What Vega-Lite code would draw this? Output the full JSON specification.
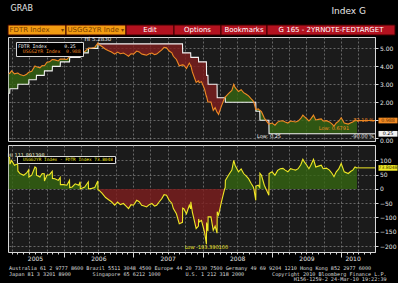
{
"$schema": "https://vega.github.io/schema/vega-lite/v6.json",
"background": "#000000",
"padding": {"left": 6, "top": 4, "right": 0, "bottom": 0},
"spacing": 0,
"resolve": {"scale": {"color": "independent", "fill": "independent"}, "legend": {"color": "independent", "fill": "independent"}},
"title": {"text": "Index G", "anchor": "end", "fontSize": 9, "fontWeight": "normal", "color": "#e8e8e8", "dx": -32, "dy": 11, "offset": 0},
"datasets": {
"d": [
{"date":"2005-03-16","fdtr":2.50,"usgg":3.6189,"spread":111.89,"sign":"pos","seg":1},
{"date":"2005-03-21","fdtr":2.50,"usgg":3.60,"spread":110,"sign":"pos","seg":1},
{"date":"2005-03-22","fdtr":2.75,"usgg":3.62,"spread":87,"sign":"pos","seg":1},
{"date":"2005-03-31","fdtr":2.75,"usgg":3.75,"spread":100,"sign":"pos","seg":1},
{"date":"2005-04-15","fdtr":2.75,"usgg":3.58,"spread":83,"sign":"pos","seg":1},
{"date":"2005-05-02","fdtr":2.75,"usgg":3.63,"spread":88,"sign":"pos","seg":1},
{"date":"2005-05-03","fdtr":3.00,"usgg":3.63,"spread":63,"sign":"pos","seg":1},
{"date":"2005-05-14","fdtr":3.00,"usgg":3.54,"spread":54,"sign":"pos","seg":1},
{"date":"2005-06-03","fdtr":3.00,"usgg":3.48,"spread":48,"sign":"pos","seg":1},
{"date":"2005-06-18","fdtr":3.00,"usgg":3.56,"spread":56,"sign":"pos","seg":1},
{"date":"2005-06-29","fdtr":3.00,"usgg":3.67,"spread":67,"sign":"pos","seg":1},
{"date":"2005-06-30","fdtr":3.25,"usgg":3.67,"spread":42,"sign":"pos","seg":1},
{"date":"2005-07-15","fdtr":3.25,"usgg":3.73,"spread":48,"sign":"pos","seg":1},
{"date":"2005-08-01","fdtr":3.25,"usgg":4.02,"spread":77,"sign":"pos","seg":1},
{"date":"2005-08-08","fdtr":3.25,"usgg":3.98,"spread":73,"sign":"pos","seg":1},
{"date":"2005-08-09","fdtr":3.50,"usgg":3.98,"spread":48,"sign":"pos","seg":1},
{"date":"2005-08-27","fdtr":3.50,"usgg":3.92,"spread":42,"sign":"pos","seg":1},
{"date":"2005-09-08","fdtr":3.50,"usgg":4.04,"spread":54,"sign":"pos","seg":1},
{"date":"2005-09-19","fdtr":3.50,"usgg":4.03,"spread":53,"sign":"pos","seg":1},
{"date":"2005-09-20","fdtr":3.75,"usgg":4.03,"spread":28,"sign":"pos","seg":1},
{"date":"2005-10-03","fdtr":3.75,"usgg":4.23,"spread":48,"sign":"pos","seg":1},
{"date":"2005-10-17","fdtr":3.75,"usgg":4.25,"spread":50,"sign":"pos","seg":1},
{"date":"2005-10-31","fdtr":3.75,"usgg":4.37,"spread":62,"sign":"pos","seg":1},
{"date":"2005-11-01","fdtr":4.00,"usgg":4.37,"spread":37,"sign":"pos","seg":1},
{"date":"2005-11-14","fdtr":4.00,"usgg":4.36,"spread":36,"sign":"pos","seg":1},
{"date":"2005-12-02","fdtr":4.00,"usgg":4.30,"spread":30,"sign":"pos","seg":1},
{"date":"2005-12-12","fdtr":4.00,"usgg":4.40,"spread":40,"sign":"pos","seg":1},
{"date":"2005-12-13","fdtr":4.25,"usgg":4.40,"spread":15,"sign":"pos","seg":1},
{"date":"2005-12-30","fdtr":4.25,"usgg":4.40,"spread":15,"sign":"pos","seg":1},
{"date":"2006-01-16","fdtr":4.25,"usgg":4.38,"spread":13,"sign":"pos","seg":1},
{"date":"2006-01-30","fdtr":4.25,"usgg":4.55,"spread":30,"sign":"pos","seg":1},
{"date":"2006-01-31","fdtr":4.50,"usgg":4.55,"spread":5,"sign":"pos","seg":1},
{"date":"2006-02-13","fdtr":4.50,"usgg":4.57,"spread":7,"sign":"pos","seg":1},
{"date":"2006-03-01","fdtr":4.50,"usgg":4.68,"spread":18,"sign":"pos","seg":1},
{"date":"2006-03-20","fdtr":4.50,"usgg":4.63,"spread":13,"sign":"pos","seg":1},
{"date":"2006-03-27","fdtr":4.50,"usgg":4.75,"spread":25,"sign":"pos","seg":1},
{"date":"2006-03-28","fdtr":4.75,"usgg":4.75,"spread":0,"sign":"pos","seg":1},
{"date":"2006-04-20","fdtr":4.75,"usgg":4.82,"spread":7,"sign":"pos","seg":1},
{"date":"2006-05-09","fdtr":4.75,"usgg":5.00,"spread":25,"sign":"pos","seg":1},
{"date":"2006-05-10","fdtr":5.00,"usgg":5.00,"spread":0,"sign":"pos","seg":1},
{"date":"2006-05-27","fdtr":5.00,"usgg":5.02,"spread":2,"sign":"pos","seg":1},
{"date":"2006-06-12","fdtr":5.00,"usgg":5.05,"spread":5,"sign":"pos","seg":1},
{"date":"2006-06-28","fdtr":5.00,"usgg":5.283,"spread":28.3,"sign":"pos","seg":1},
{"date":"2006-06-29","fdtr":5.25,"usgg":5.22,"spread":-3,"sign":"neg","seg":2},
{"date":"2006-07-05","fdtr":5.25,"usgg":5.20,"spread":-5,"sign":"neg","seg":2},
{"date":"2006-07-20","fdtr":5.25,"usgg":5.10,"spread":-15,"sign":"neg","seg":2},
{"date":"2006-08-08","fdtr":5.25,"usgg":4.95,"spread":-30,"sign":"neg","seg":2},
{"date":"2006-08-24","fdtr":5.25,"usgg":4.87,"spread":-38,"sign":"neg","seg":2},
{"date":"2006-09-08","fdtr":5.25,"usgg":4.80,"spread":-45,"sign":"neg","seg":2},
{"date":"2006-09-25","fdtr":5.25,"usgg":4.68,"spread":-57,"sign":"neg","seg":2},
{"date":"2006-10-10","fdtr":5.25,"usgg":4.79,"spread":-46,"sign":"neg","seg":2},
{"date":"2006-10-25","fdtr":5.25,"usgg":4.70,"spread":-55,"sign":"neg","seg":2},
{"date":"2006-11-10","fdtr":5.25,"usgg":4.74,"spread":-51,"sign":"neg","seg":2},
{"date":"2006-11-24","fdtr":5.25,"usgg":4.65,"spread":-60,"sign":"neg","seg":2},
{"date":"2006-12-07","fdtr":5.25,"usgg":4.56,"spread":-69,"sign":"neg","seg":2},
{"date":"2006-12-20","fdtr":5.25,"usgg":4.70,"spread":-55,"sign":"neg","seg":2},
{"date":"2007-01-02","fdtr":5.25,"usgg":4.68,"spread":-57,"sign":"neg","seg":2},
{"date":"2007-01-19","fdtr":5.25,"usgg":4.85,"spread":-40,"sign":"neg","seg":2},
{"date":"2007-02-01","fdtr":5.25,"usgg":4.80,"spread":-45,"sign":"neg","seg":2},
{"date":"2007-02-14","fdtr":5.25,"usgg":4.68,"spread":-57,"sign":"neg","seg":2},
{"date":"2007-02-27","fdtr":5.25,"usgg":4.65,"spread":-60,"sign":"neg","seg":2},
{"date":"2007-03-12","fdtr":5.25,"usgg":4.62,"spread":-63,"sign":"neg","seg":2},
{"date":"2007-03-26","fdtr":5.25,"usgg":4.70,"spread":-55,"sign":"neg","seg":2},
{"date":"2007-04-09","fdtr":5.25,"usgg":4.74,"spread":-51,"sign":"neg","seg":2},
{"date":"2007-04-23","fdtr":5.25,"usgg":4.65,"spread":-60,"sign":"neg","seg":2},
{"date":"2007-05-04","fdtr":5.25,"usgg":4.68,"spread":-57,"sign":"neg","seg":2},
{"date":"2007-05-18","fdtr":5.25,"usgg":4.80,"spread":-45,"sign":"neg","seg":2},
{"date":"2007-05-31","fdtr":5.25,"usgg":4.91,"spread":-34,"sign":"neg","seg":2},
{"date":"2007-06-12","fdtr":5.25,"usgg":5.05,"spread":-20,"sign":"neg","seg":2},
{"date":"2007-06-25","fdtr":5.25,"usgg":5.03,"spread":-22,"sign":"neg","seg":2},
{"date":"2007-07-09","fdtr":5.25,"usgg":4.85,"spread":-40,"sign":"neg","seg":2},
{"date":"2007-07-23","fdtr":5.25,"usgg":4.75,"spread":-50,"sign":"neg","seg":2},
{"date":"2007-07-31","fdtr":5.25,"usgg":4.56,"spread":-69,"sign":"neg","seg":2},
{"date":"2007-08-16","fdtr":5.25,"usgg":4.38,"spread":-87,"sign":"neg","seg":2},
{"date":"2007-08-31","fdtr":5.25,"usgg":4.03,"spread":-122,"sign":"neg","seg":2},
{"date":"2007-09-17","fdtr":5.25,"usgg":4.08,"spread":-117,"sign":"neg","seg":2},
{"date":"2007-09-18","fdtr":4.75,"usgg":4.08,"spread":-67,"sign":"neg","seg":2},
{"date":"2007-09-24","fdtr":4.75,"usgg":4.06,"spread":-69,"sign":"neg","seg":2},
{"date":"2007-10-08","fdtr":4.75,"usgg":3.88,"spread":-87,"sign":"neg","seg":2},
{"date":"2007-10-23","fdtr":4.75,"usgg":4.18,"spread":-57,"sign":"neg","seg":2},
{"date":"2007-10-30","fdtr":4.75,"usgg":4.05,"spread":-70,"sign":"neg","seg":2},
{"date":"2007-10-31","fdtr":4.50,"usgg":4.05,"spread":-45,"sign":"neg","seg":2},
{"date":"2007-11-08","fdtr":4.50,"usgg":3.69,"spread":-81,"sign":"neg","seg":2},
{"date":"2007-11-28","fdtr":4.50,"usgg":3.11,"spread":-139,"sign":"neg","seg":2},
{"date":"2007-12-10","fdtr":4.50,"usgg":3.20,"spread":-130,"sign":"neg","seg":2},
{"date":"2007-12-11","fdtr":4.25,"usgg":3.20,"spread":-105,"sign":"neg","seg":2},
{"date":"2007-12-14","fdtr":4.25,"usgg":3.09,"spread":-116,"sign":"neg","seg":2},
{"date":"2007-12-26","fdtr":4.25,"usgg":3.15,"spread":-110,"sign":"neg","seg":2},
{"date":"2008-01-11","fdtr":4.25,"usgg":2.74,"spread":-151,"sign":"neg","seg":2},
{"date":"2008-01-21","fdtr":4.25,"usgg":2.3161,"spread":-193.39,"sign":"neg","seg":2},
{"date":"2008-01-22","fdtr":3.50,"usgg":2.32,"spread":-118,"sign":"neg","seg":2},
{"date":"2008-01-28","fdtr":3.50,"usgg":2.05,"spread":-145,"sign":"neg","seg":2},
{"date":"2008-01-29","fdtr":3.50,"usgg":2.02,"spread":-148,"sign":"neg","seg":2},
{"date":"2008-01-30","fdtr":3.00,"usgg":2.02,"spread":-98,"sign":"neg","seg":2},
{"date":"2008-02-14","fdtr":3.00,"usgg":2.02,"spread":-98,"sign":"neg","seg":2},
{"date":"2008-02-26","fdtr":3.00,"usgg":1.55,"spread":-145,"sign":"neg","seg":2},
{"date":"2008-03-07","fdtr":3.00,"usgg":1.70,"spread":-130,"sign":"neg","seg":2},
{"date":"2008-03-17","fdtr":3.00,"usgg":1.45,"spread":-155,"sign":"neg","seg":2},
{"date":"2008-03-18","fdtr":2.25,"usgg":1.45,"spread":-80,"sign":"neg","seg":2},
{"date":"2008-03-25","fdtr":2.25,"usgg":1.33,"spread":-92,"sign":"neg","seg":2},
{"date":"2008-04-09","fdtr":2.25,"usgg":1.79,"spread":-46,"sign":"neg","seg":2},
{"date":"2008-04-26","fdtr":2.25,"usgg":2.25,"spread":0,"sign":"neg","seg":2},
{"date":"2008-04-26","fdtr":2.25,"usgg":2.25,"spread":0,"sign":"pos","seg":3},
{"date":"2008-04-29","fdtr":2.25,"usgg":2.30,"spread":5,"sign":"pos","seg":3},
{"date":"2008-04-30","fdtr":2.00,"usgg":2.30,"spread":30,"sign":"pos","seg":3},
{"date":"2008-05-16","fdtr":2.00,"usgg":2.48,"spread":48,"sign":"pos","seg":3},
{"date":"2008-06-03","fdtr":2.00,"usgg":2.66,"spread":66,"sign":"pos","seg":3},
{"date":"2008-06-13","fdtr":2.00,"usgg":3.00,"spread":100,"sign":"pos","seg":3},
{"date":"2008-06-20","fdtr":2.00,"usgg":2.83,"spread":83,"sign":"pos","seg":3},
{"date":"2008-07-08","fdtr":2.00,"usgg":2.60,"spread":60,"sign":"pos","seg":3},
{"date":"2008-07-22","fdtr":2.00,"usgg":2.70,"spread":70,"sign":"pos","seg":3},
{"date":"2008-08-04","fdtr":2.00,"usgg":2.54,"spread":54,"sign":"pos","seg":3},
{"date":"2008-08-18","fdtr":2.00,"usgg":2.45,"spread":45,"sign":"pos","seg":3},
{"date":"2008-08-30","fdtr":2.00,"usgg":2.36,"spread":36,"sign":"pos","seg":3},
{"date":"2008-09-12","fdtr":2.00,"usgg":2.20,"spread":20,"sign":"pos","seg":3},
{"date":"2008-09-24","fdtr":2.00,"usgg":2.07,"spread":7,"sign":"pos","seg":3},
{"date":"2008-09-27","fdtr":2.00,"usgg":2.00,"spread":0,"sign":"pos","seg":3},
{"date":"2008-09-27","fdtr":2.00,"usgg":2.00,"spread":0,"sign":"neg","seg":4},
{"date":"2008-10-07","fdtr":2.00,"usgg":1.60,"spread":-40,"sign":"neg","seg":4},
{"date":"2008-10-08","fdtr":1.50,"usgg":1.60,"spread":10,"sign":"pos","seg":5},
{"date":"2008-10-20","fdtr":1.50,"usgg":1.63,"spread":13,"sign":"pos","seg":5},
{"date":"2008-10-28","fdtr":1.50,"usgg":1.55,"spread":5,"sign":"pos","seg":5},
{"date":"2008-10-29","fdtr":1.00,"usgg":1.55,"spread":55,"sign":"pos","seg":5},
{"date":"2008-11-06","fdtr":1.00,"usgg":1.48,"spread":48,"sign":"pos","seg":5},
{"date":"2008-11-21","fdtr":1.00,"usgg":1.13,"spread":13,"sign":"pos","seg":5},
{"date":"2008-11-30","fdtr":1.00,"usgg":1.00,"spread":0,"sign":"pos","seg":5},
{"date":"2008-11-30","fdtr":1.00,"usgg":1.00,"spread":0,"sign":"neg","seg":6},
{"date":"2008-12-15","fdtr":1.00,"usgg":0.78,"spread":-22,"sign":"neg","seg":6},
{"date":"2008-12-16","fdtr":0.25,"usgg":0.79,"spread":54,"sign":"pos","seg":7},
{"date":"2009-01-01","fdtr":0.25,"usgg":0.85,"spread":60,"sign":"pos","seg":7},
{"date":"2009-01-16","fdtr":0.25,"usgg":0.73,"spread":48,"sign":"pos","seg":7},
{"date":"2009-01-30","fdtr":0.25,"usgg":0.90,"spread":65,"sign":"pos","seg":7},
{"date":"2009-02-13","fdtr":0.25,"usgg":0.96,"spread":71,"sign":"pos","seg":7},
{"date":"2009-02-27","fdtr":0.25,"usgg":0.97,"spread":72,"sign":"pos","seg":7},
{"date":"2009-03-11","fdtr":0.25,"usgg":0.91,"spread":66,"sign":"pos","seg":7},
{"date":"2009-03-25","fdtr":0.25,"usgg":0.85,"spread":60,"sign":"pos","seg":7},
{"date":"2009-04-08","fdtr":0.25,"usgg":0.96,"spread":71,"sign":"pos","seg":7},
{"date":"2009-04-22","fdtr":0.25,"usgg":0.93,"spread":68,"sign":"pos","seg":7},
{"date":"2009-05-05","fdtr":0.25,"usgg":0.91,"spread":66,"sign":"pos","seg":7},
{"date":"2009-05-18","fdtr":0.25,"usgg":0.96,"spread":71,"sign":"pos","seg":7},
{"date":"2009-06-01","fdtr":0.25,"usgg":1.10,"spread":85,"sign":"pos","seg":7},
{"date":"2009-06-12","fdtr":0.25,"usgg":1.29,"spread":104,"sign":"pos","seg":7},
{"date":"2009-06-20","fdtr":0.25,"usgg":1.20,"spread":95,"sign":"pos","seg":7},
{"date":"2009-07-01","fdtr":0.25,"usgg":1.10,"spread":85,"sign":"pos","seg":7},
{"date":"2009-07-14","fdtr":0.25,"usgg":0.96,"spread":71,"sign":"pos","seg":7},
{"date":"2009-07-24","fdtr":0.25,"usgg":1.08,"spread":83,"sign":"pos","seg":7},
{"date":"2009-08-07","fdtr":0.25,"usgg":1.29,"spread":104,"sign":"pos","seg":7},
{"date":"2009-08-19","fdtr":0.25,"usgg":1.02,"spread":77,"sign":"pos","seg":7},
{"date":"2009-09-02","fdtr":0.25,"usgg":1.05,"spread":80,"sign":"pos","seg":7},
{"date":"2009-09-17","fdtr":0.25,"usgg":1.08,"spread":83,"sign":"pos","seg":7},
{"date":"2009-09-27","fdtr":0.25,"usgg":0.96,"spread":71,"sign":"pos","seg":7},
{"date":"2009-10-14","fdtr":0.25,"usgg":0.98,"spread":73,"sign":"pos","seg":7},
{"date":"2009-10-30","fdtr":0.25,"usgg":0.91,"spread":66,"sign":"pos","seg":7},
{"date":"2009-11-12","fdtr":0.25,"usgg":0.80,"spread":55,"sign":"pos","seg":7},
{"date":"2009-11-23","fdtr":0.25,"usgg":0.6791,"spread":42.91,"sign":"pos","seg":7},
{"date":"2009-12-05","fdtr":0.25,"usgg":0.85,"spread":60,"sign":"pos","seg":7},
{"date":"2009-12-18","fdtr":0.25,"usgg":0.95,"spread":70,"sign":"pos","seg":7},
{"date":"2009-12-31","fdtr":0.25,"usgg":1.14,"spread":89,"sign":"pos","seg":7},
{"date":"2010-01-16","fdtr":0.25,"usgg":0.85,"spread":60,"sign":"pos","seg":7},
{"date":"2010-02-06","fdtr":0.25,"usgg":0.79,"spread":54,"sign":"pos","seg":7},
{"date":"2010-02-20","fdtr":0.25,"usgg":0.87,"spread":62,"sign":"pos","seg":7},
{"date":"2010-03-02","fdtr":0.25,"usgg":0.91,"spread":66,"sign":"pos","seg":7},
{"date":"2010-03-14","fdtr":0.25,"usgg":1.02,"spread":77,"sign":"pos","seg":7},
{"date":"2010-03-24","fdtr":0.25,"usgg":0.988,"spread":73.8048,"sign":"pos","seg":7}
],
"last": [{"date":"2010-03-24","fdtr":0.25,"usgg":0.988,"spread":73.8048,"usggPct":"-72.18 %","fdtrPct":"-90.00 %"}]
},
"vconcat": [
{
"width": 387, "height": 10,
"title": {"text": "GRAB", "anchor": "start", "fontSize": 8, "offset": 12, "color": "#e6e6e6", "dx": 3, "fontWeight": "normal"},
"view": {"stroke": null, "fill": null},
"data": {"values": [
{"i":0,"label":"FDTR Index","w":58},
{"i":1,"label":"USGG2YR Inde","w":60},
{"i":2,"label":"Edit","w":48},
{"i":3,"label":"Options","w":47},
{"i":4,"label":"Bookmarks","w":46},
{"i":5,"label":"G 165 - 2YRNOTE-FEDTARGET","w":128}
]},
"transform": [{"stack": "w", "groupby": [], "sort": [{"field": "i", "order": "ascending"}], "as": ["x0", "x1"]}],
"layer": [
{"mark": {"type": "rect", "stroke": "#3a0000", "strokeWidth": 1},
 "encoding": {
  "x": {"field": "x0", "type": "quantitative", "scale": {"domain": [0, 387], "nice": false, "zero": false}, "axis": null},
  "x2": {"field": "x1"},
  "fill": {"field": "label", "type": "nominal", "legend": null, "sort": null,
   "scale": {"domain": ["FDTR Index","USGG2YR Inde","Edit","Options","Bookmarks","G 165 - 2YRNOTE-FEDTARGET"],
             "range": ["#f39c12","#f39c12","#b3121f","#b3121f","#b3121f","#b3121f"]}}
 }},
{"transform": [{"filter": "datum.i < 2"}],
 "mark": {"type": "text", "align": "left", "dx": 1.5, "fontSize": 7, "color": "#7b3f00"},
 "encoding": {"x": {"field": "x0", "type": "quantitative", "axis": null}, "text": {"field": "label"}}},
{"transform": [{"filter": "datum.i < 2"}],
 "mark": {"type": "text", "align": "right", "dx": -2, "fontSize": 6, "color": "#7b3f00", "text": "▾"},
 "encoding": {"x": {"field": "x1", "type": "quantitative", "axis": null}}},
{"transform": [{"filter": "datum.i == 2"}],
 "mark": {"type": "text", "align": "center", "dx": 24, "fontSize": 7, "color": "#ffffff"},
 "encoding": {"x": {"field": "x0", "type": "quantitative", "axis": null}, "text": {"field": "label"}}},
{"transform": [{"filter": "datum.i == 3"}],
 "mark": {"type": "text", "align": "center", "dx": 23.5, "fontSize": 7, "color": "#ffffff"},
 "encoding": {"x": {"field": "x0", "type": "quantitative", "axis": null}, "text": {"field": "label"}}},
{"transform": [{"filter": "datum.i == 4"}],
 "mark": {"type": "text", "align": "center", "dx": 23, "fontSize": 7, "color": "#ffffff"},
 "encoding": {"x": {"field": "x0", "type": "quantitative", "axis": null}, "text": {"field": "label"}}},
{"transform": [{"filter": "datum.i == 5"}],
 "mark": {"type": "text", "align": "center", "dx": 64, "fontSize": 7, "color": "#ffffff"},
 "encoding": {"x": {"field": "x0", "type": "quantitative", "axis": null}, "text": {"field": "label"}}}
]
},
{
"width": 367, "height": 104,
"data": {"name": "d"},
"layer": [
{"transform": [{"filter": "datum.sign == 'pos'"}],
 "mark": {"type": "area", "opacity": 0.8, "color": "#356512"},
 "encoding": {
  "x": {"field": "date", "type": "temporal", "title": null,
   "scale": {"domain": [{"year":2005,"month":3,"date":12},{"year":2010,"month":6,"date":27}]},
   "axis": {"orient": "bottom", "labels": false, "ticks": false, "domain": false, "grid": true,
    "tickCount": {"interval": "month", "step": 1},
    "gridOpacity": {"condition": {"test": "month(datum.value) % 3 == 0", "value": 0.85}, "value": 0}}},
  "y": {"field": "usgg", "type": "quantitative", "title": null,
   "scale": {"domain": [-0.15, 5.63], "nice": false, "zero": false},
   "axis": {"orient": "right", "values": [0,1,2,3,4,5], "tickCount": 6, "format": ".2f", "grid": true, "gridOpacity": 0.85, "tickSize": 3, "labelPadding": 1.5, "labelFontSize": 6, "labelOverlap": false,
    "labelExpr": "datum.value == 1 ? '' : datum.label",
    "labelOffset": {"condition": {"test": "datum.value == 0", "value": 2}, "value": 0}}},
  "y2": {"field": "fdtr"},
  "detail": {"field": "seg", "type": "nominal"}
 }},
{"transform": [{"filter": "datum.sign == 'neg'"}],
 "mark": {"type": "area", "opacity": 0.8, "color": "#7e1e1e"},
 "encoding": {
  "x": {"field": "date", "type": "temporal"},
  "y": {"field": "usgg", "type": "quantitative", "title": null},
  "y2": {"field": "fdtr"},
  "detail": {"field": "seg", "type": "nominal"}
 }},
{"mark": {"type": "line", "strokeWidth": 1.1, "color": "#f2f2f2"},
 "encoding": {
  "x": {"field": "date", "type": "temporal"},
  "y": {"field": "fdtr", "type": "quantitative", "title": null}
 }},
{"mark": {"type": "line", "strokeWidth": 1.1},
 "encoding": {
  "x": {"field": "date", "type": "temporal"},
  "y": {"field": "usgg", "type": "quantitative", "title": null},
  "color": {"datum": "USGG2YR Index",
   "scale": {"domain": ["USGG2YR Index"], "range": ["#f08a24"]},
   "legend": {"orient": "none", "legendX": 8, "legendY": 5,
    "title": "FDTR Index\u00a0\u00a0\u00a0\u00a0\u00a0\u00a00.25", "titleColor": "#f2f2f2", "titleFont": "DejaVu Sans Mono", "titleFontSize": 4.8, "titleFontWeight": "normal", "titlePadding": 1, "titleAnchor": "start",
    "fillColor": "#000000", "strokeColor": "#d8d8d8",
    "padding": 2, "labelFont": "DejaVu Sans Mono", "labelFontSize": 4.8, "labelColor": "#f08a24", "symbolSize": 0, "symbolOpacity": 0, "symbolStrokeWidth": 0, "labelOffset": 0,
    "labelExpr": "'USGG2YR Index\u00a0\u00a00.988'"}}
 }},
{"data": {"name": "last"}, "mark": {"type": "rule", "color": "#f08a24", "strokeWidth": 1},
 "encoding": {"x": {"field": "date", "type": "temporal"}, "x2": {"datum": {"year":2010,"month":6,"date":27}}, "y": {"field": "usgg", "type": "quantitative", "title": null}}},
{"data": {"name": "last"}, "mark": {"type": "rule", "color": "#f2f2f2", "strokeWidth": 1},
 "encoding": {"x": {"field": "date", "type": "temporal"}, "x2": {"datum": {"year":2010,"month":6,"date":27}}, "y": {"field": "fdtr", "type": "quantitative", "title": null}}},
{"data": {"name": "last"}, "mark": {"type": "point", "shape": "M-1,-0.3H1V0.3H-1Z", "size": 361, "filled": true, "fill": "#f08a24", "opacity": 1, "strokeWidth": 0, "xOffset": 13},
 "encoding": {"x": {"datum": {"year":2010,"month":6,"date":27}}, "y": {"field": "usgg", "type": "quantitative", "title": null}}},
{"data": {"name": "last"}, "mark": {"type": "text", "dx": 13, "align": "center", "fontSize": 4.8, "color": "#5a2a00"},
 "encoding": {"x": {"datum": {"year":2010,"month":6,"date":27}}, "y": {"field": "usgg", "type": "quantitative", "title": null}, "text": {"field": "usgg", "format": ".3f"}}},
{"data": {"name": "last"}, "mark": {"type": "point", "shape": "M-1,-0.3H1V0.3H-1Z", "size": 361, "filled": true, "fill": "#f2f2f2", "opacity": 1, "strokeWidth": 0, "xOffset": 13},
 "encoding": {"x": {"datum": {"year":2010,"month":6,"date":27}}, "y": {"field": "fdtr", "type": "quantitative", "title": null}}},
{"data": {"name": "last"}, "mark": {"type": "text", "dx": 13, "align": "center", "fontSize": 4.8, "color": "#000000"},
 "encoding": {"x": {"datum": {"year":2010,"month":6,"date":27}}, "y": {"field": "fdtr", "type": "quantitative", "title": null}, "text": {"field": "fdtr", "format": ".2f"}}},
{"data": {"name": "last"}, "mark": {"type": "text", "align": "right", "baseline": "bottom", "dx": -1, "dy": 2, "fontSize": 5, "color": "#f08a24"},
 "encoding": {"x": {"datum": {"year":2010,"month":6,"date":27}}, "y": {"field": "usgg", "type": "quantitative", "title": null}, "text": {"field": "usggPct"}}},
{"data": {"name": "last"}, "mark": {"type": "text", "align": "right", "baseline": "top", "dx": -1, "dy": 0.5, "fontSize": 5, "color": "#e0e0e0"},
 "encoding": {"x": {"datum": {"year":2010,"month":6,"date":27}}, "y": {"field": "fdtr", "type": "quantitative", "title": null}, "text": {"field": "fdtrPct"}}},
{"data": {"values": [{"date":"2006-06-28","value":5.283,"label":"Hi 5.2830"}]},
 "mark": {"type": "text", "align": "center", "baseline": "bottom", "dy": -1, "fontSize": 5.5, "color": "#f2f2f2"},
 "encoding": {"x": {"field": "date", "type": "temporal"}, "y": {"field": "value", "type": "quantitative", "title": null}, "text": {"field": "label"}}},
{"data": {"values": [{"date":"2008-12-16","value":0.25,"label":"Low: 0.25"}]},
 "mark": {"type": "text", "align": "center", "baseline": "top", "dy": 0.5, "fontSize": 5, "color": "#f2f2f2"},
 "encoding": {"x": {"field": "date", "type": "temporal"}, "y": {"field": "value", "type": "quantitative", "title": null}, "text": {"field": "label"}}},
{"data": {"values": [{"date":"2009-11-23","value":0.6791,"label":"Low: 0.6791"}]},
 "mark": {"type": "text", "align": "center", "baseline": "top", "dy": -0.5, "fontSize": 5, "color": "#f08a24"},
 "encoding": {"x": {"field": "date", "type": "temporal"}, "y": {"field": "value", "type": "quantitative", "title": null}, "text": {"field": "label"}}}
]
},
{
"width": 367, "height": 107,
"title": {"text": [
 "Australia 61 2 9777 8600 Brazil 5511 3048 4500 Europe 44 20 7330 7500 Germany 49 69 9204 1210 Hong Kong 852 2977 6000",
 "Japan 81 3 3201 8900\u00a0\u00a0\u00a0\u00a0\u00a0\u00a0\u00a0Singapore 65 6212 1000\u00a0\u00a0\u00a0\u00a0\u00a0\u00a0\u00a0\u00a0U.S. 1 212 318 2000\u00a0\u00a0\u00a0\u00a0\u00a0\u00a0\u00a0\u00a0\u00a0Copyright 2010 Bloomberg Finance L.P.",
 "\u200b\u00a0\u00a0\u00a0\u00a0\u00a0\u00a0\u00a0\u00a0\u00a0\u00a0\u00a0\u00a0\u00a0\u00a0\u00a0\u00a0\u00a0\u00a0\u00a0\u00a0\u00a0\u00a0\u00a0\u00a0\u00a0\u00a0\u00a0\u00a0\u00a0\u00a0\u00a0\u00a0\u00a0\u00a0\u00a0\u00a0\u00a0\u00a0\u00a0\u00a0\u00a0\u00a0\u00a0\u00a0\u00a0\u00a0\u00a0\u00a0\u00a0\u00a0\u00a0\u00a0\u00a0\u00a0\u00a0\u00a0\u00a0\u00a0\u00a0\u00a0\u00a0\u00a0\u00a0\u00a0\u00a0\u00a0\u00a0\u00a0\u00a0\u00a0\u00a0\u00a0\u00a0\u00a0\u00a0\u00a0\u00a0\u00a0\u00a0\u00a0\u00a0\u00a0\u00a0\u00a0\u00a0\u00a0\u00a0\u00a0\u00a0\u00a0\u00a0\u00a0H156-1259-2 24-Mar-10 19:22:39"
 ],
 "orient": "bottom", "anchor": "start", "frame": "group", "font": "DejaVu Sans Mono", "fontSize": 5.15, "lineHeight": 5.6, "color": "#dcdcdc", "fontWeight": "normal", "offset": 2, "dx": 1},
"data": {"name": "d"},
"layer": [
{"transform": [{"filter": "datum.sign == 'pos'"}],
 "mark": {"type": "area", "opacity": 0.8, "color": "#356512"},
 "encoding": {
  "x": {"field": "date", "type": "temporal", "title": null,
   "scale": {"domain": [{"year":2005,"month":3,"date":12},{"year":2010,"month":6,"date":27}]},
   "axis": {"orient": "bottom", "grid": true, "domain": false,
    "tickCount": {"interval": "month", "step": 1},
    "gridOpacity": {"condition": {"test": "month(datum.value) % 3 == 0", "value": 0.85}, "value": 0},
    "tickSize": {"condition": {"test": "month(datum.value) == 0", "value": 5}, "value": 2},
    "labelExpr": "((month(datum.value) == 6 && year(datum.value) >= 2006 && year(datum.value) <= 2009) || (year(datum.value) == 2005 && month(datum.value) == 7) || (year(datum.value) == 2010 && month(datum.value) == 2)) ? timeFormat(datum.value, '%Y') : ''",
    "labelOverlap": false, "labelFlush": false, "labelFontSize": 6, "labelPadding": 1, "labelColor": "#e6e6e6"}},
  "y": {"field": "spread", "type": "quantitative", "title": null,
   "scale": {"domain": [-221, 154], "nice": false, "zero": false},
   "axis": {"orient": "right", "values": [-200,-150,-100,-50,0,50,100], "tickCount": 8, "format": "d", "grid": true, "gridOpacity": 0.85, "tickSize": 3, "labelPadding": 1.5, "labelFontSize": 6, "labelOverlap": false}},
  "y2": {"datum": 0},
  "detail": {"field": "seg", "type": "nominal"}
 }},
{"transform": [{"filter": "datum.sign == 'neg'"}],
 "mark": {"type": "area", "opacity": 0.8, "color": "#7e1e1e"},
 "encoding": {
  "x": {"field": "date", "type": "temporal"},
  "y": {"field": "spread", "type": "quantitative", "title": null},
  "y2": {"datum": 0},
  "detail": {"field": "seg", "type": "nominal"}
 }},
{"mark": {"type": "line", "strokeWidth": 1.1},
 "encoding": {
  "x": {"field": "date", "type": "temporal"},
  "y": {"field": "spread", "type": "quantitative", "title": null},
  "color": {"datum": "USGG2YR Index - FDTR Index",
   "scale": {"domain": ["USGG2YR Index - FDTR Index"], "range": ["#f0e826"]},
   "legend": {"orient": "none", "legendX": 9, "legendY": 11, "title": null, "fillColor": "#000000", "strokeColor": "#d8d8d8",
    "padding": 1.5, "labelFont": "DejaVu Sans Mono", "labelFontSize": 4.4, "labelColor": "#f0e826", "symbolSize": 0, "symbolOpacity": 0, "symbolStrokeWidth": 0, "labelOffset": 0,
    "labelExpr": "'USGG2YR Index - FDTR Index\u00a073.8048'"}}
 }},
{"data": {"name": "last"}, "mark": {"type": "rule", "color": "#f0e826", "strokeWidth": 1},
 "encoding": {"x": {"field": "date", "type": "temporal"}, "x2": {"datum": {"year":2010,"month":6,"date":27}}, "y": {"field": "spread", "type": "quantitative", "title": null}}},
{"data": {"name": "last"}, "mark": {"type": "point", "shape": "M-1,-0.3H1V0.3H-1Z", "size": 361, "filled": true, "fill": "#f0e826", "opacity": 1, "strokeWidth": 0, "xOffset": 13},
 "encoding": {"x": {"datum": {"year":2010,"month":6,"date":27}}, "y": {"field": "spread", "type": "quantitative", "title": null}}},
{"data": {"name": "last"}, "mark": {"type": "text", "dx": 13, "align": "center", "fontSize": 4.6, "color": "#3a3a00"},
 "encoding": {"x": {"datum": {"year":2010,"month":6,"date":27}}, "y": {"field": "spread", "type": "quantitative", "title": null}, "text": {"field": "spread", "format": ".4f"}}},
{"data": {"values": [{"date":"2005-03-16","value":111.891398,"label":"Hi 111.891398"}]},
 "mark": {"type": "text", "align": "left", "baseline": "bottom", "dx": -1, "dy": 1, "fontSize": 5, "color": "#e8e8c0"},
 "encoding": {"x": {"field": "date", "type": "temporal"}, "y": {"field": "value", "type": "quantitative", "title": null}, "text": {"field": "label"}}},
{"data": {"values": [{"date":"2008-01-21","value":-193.3901,"label":"Low -193.390100"}]},
 "mark": {"type": "text", "align": "center", "baseline": "top", "dy": 0.5, "fontSize": 5, "color": "#f0e826"},
 "encoding": {"x": {"field": "date", "type": "temporal"}, "y": {"field": "value", "type": "quantitative", "title": null}, "text": {"field": "label"}}}
]
}
],
"config": {
 "font": "DejaVu Sans",
 "view": {"stroke": "#d8d8d8", "strokeWidth": 1, "fill": "#1b1b1b"},
 "axis": {"labelFont": "DejaVu Sans", "labelColor": "#e6e6e6", "tickColor": "#d8d8d8", "domainColor": "#d8d8d8", "gridColor": "#9a9a9a", "gridDash": [2, 2], "gridWidth": 0.7, "labelOverlap": false},
 "title": {"font": "DejaVu Sans", "color": "#e6e6e6", "fontWeight": "normal"}
}
}
